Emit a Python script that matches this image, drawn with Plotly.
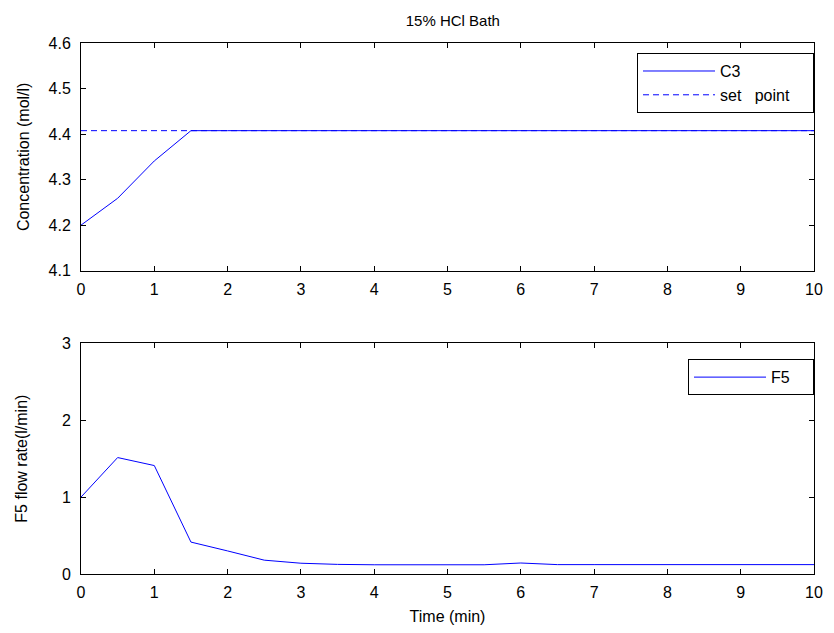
import plotly.graph_objects as go

# ---- data ----
t = [0, 0.5, 1, 1.5, 2, 2.5, 3, 3.5, 4, 4.5, 5, 5.5, 6, 6.5, 7, 7.5, 8, 8.5, 9, 9.5, 10]
c3 = [4.20, 4.259, 4.341, 4.4075, 4.4075, 4.4075, 4.4075, 4.4075, 4.4075, 4.4075, 4.4075,
      4.4075, 4.4075, 4.4075, 4.4075, 4.4075, 4.4075, 4.4075, 4.4075, 4.4075, 4.4075]
setpoint_t = [0, 10]
setpoint = [4.4075, 4.4075]
f5 = [1.0, 1.514, 1.41, 0.415, 0.30, 0.18, 0.14, 0.125, 0.12, 0.12, 0.123,
      0.12, 0.143, 0.122, 0.122, 0.122, 0.122, 0.122, 0.122, 0.122, 0.122]
x_ticks = [0, 1, 2, 3, 4, 5, 6, 7, 8, 9, 10]
y1_ticks = [4.1, 4.2, 4.3, 4.4, 4.5, 4.6]
y2_ticks = [0, 1, 2, 3]

FONT = "Liberation Sans, Arial, Helvetica, sans-serif"
FS = 16
BLUE = "#0000ff"
NB = "\u00a0"

fig = go.Figure()
fig.add_trace(go.Scatter(x=t, y=c3, mode="lines", name="C3" + NB * 4,
                         line=dict(color=BLUE, width=1), xaxis="x", yaxis="y",
                         legend="legend", legendgroup="a"))
fig.add_trace(go.Scatter(x=setpoint_t, y=setpoint, mode="lines",
                         name="set" + NB * 3 + "point" + NB * 4,
                         line=dict(color=BLUE, width=1, dash="6px,4px"), xaxis="x", yaxis="y",
                         legend="legend", legendgroup="b"))
fig.add_trace(go.Scatter(x=t, y=f5, mode="lines", name="F5" + NB * 4,
                         line=dict(color=BLUE, width=1), xaxis="x2", yaxis="y2",
                         legend="legend2"))

axis_common = dict(showline=True, linecolor="black", linewidth=1, mirror="ticks",
                   ticks="inside", ticklen=5, tickwidth=1, tickcolor="black",
                   showgrid=False, zeroline=False,
                   tickfont=dict(family=FONT, size=FS, color="black"))

fig.update_layout(
    width=834, height=633,
    margin=dict(l=81, r=11, t=43, b=56),
    paper_bgcolor="white", plot_bgcolor="white",
    font=dict(family=FONT, size=FS, color="black"),
    title=dict(text="15% HCl Bath", x=0.543, xanchor="center", y=0.968, yanchor="middle",
               font=dict(family=FONT, size=15, color="black")),
    xaxis=dict(range=[0, 10], tickvals=x_ticks, domain=[0, 1], anchor="y",
               ticklabelstandoff=4, **axis_common),
    yaxis=dict(range=[4.1, 4.6], tickvals=y1_ticks, ticktext=[f"{v:.1f}" for v in y1_ticks],
               domain=[0.5712, 1.0], anchor="x", ticklabelstandoff=6,
               title=dict(text="Concentration (mol/l)", standoff=14, font=dict(family=FONT, size=FS)),
               **axis_common),
    xaxis2=dict(range=[0, 10], tickvals=x_ticks, domain=[0, 1], anchor="y2",
                ticklabelstandoff=4,
                title=dict(text="Time (min)", standoff=10, font=dict(family=FONT, size=FS)),
                **axis_common),
    yaxis2=dict(range=[0, 3], tickvals=y2_ticks, domain=[0, 0.4345], anchor="x2",
                ticklabelstandoff=6,
                title=dict(text="F5 flow rate(l/min)", standoff=30, font=dict(family=FONT, size=FS)),
                **axis_common),
    legend=dict(x=1.0, xanchor="right", y=0.981, yanchor="top",
                bordercolor="black", borderwidth=1, bgcolor="white",
                font=dict(family=FONT, size=FS, color="black"), itemwidth=72,
                tracegroupgap=13, traceorder="normal"),
    legend2=dict(x=1.0, xanchor="right", y=0.4045, yanchor="top",
                 bordercolor="black", borderwidth=1, bgcolor="white",
                 font=dict(family=FONT, size=FS, color="black"), itemwidth=72),
    showlegend=True,
)

fig.write_html("out.html")
